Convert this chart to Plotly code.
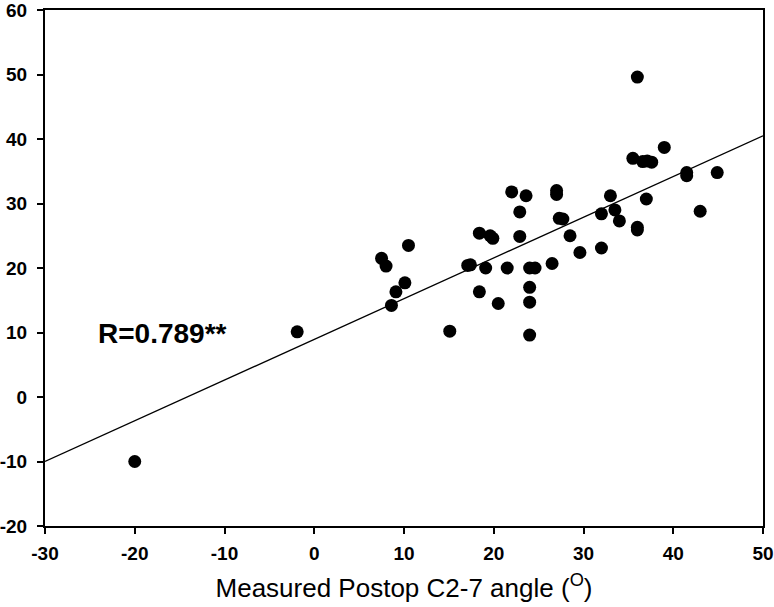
import plotly.graph_objects as go

# Measured postop C2-7 angle (x) vs predicted/other angle (y)
x_vals = [-20, -1.9, 7.5, 8.0, 10.5, 8.6, 9.1, 10.1, 15.1, 17.1,
          18.4, 18.4, 19.1, 19.6, 19.9, 20.5, 21.5, 22.0, 22.9, 22.9,
          23.6, 24.0, 24.0, 24.0, 24.0, 24.6, 26.5, 27.0, 27.0, 27.3,
          27.7, 28.5, 29.6, 32.0, 32.0, 33.0, 33.5, 34.0, 35.5, 36.0,
          36.0, 36.6, 37.1, 37.6, 37.0, 39.0, 41.5, 41.5, 43.0, 44.9,
          17.4, 36.0]
y_vals = [-10, 10.1, 21.5, 20.3, 23.5, 14.2, 16.3, 17.7, 10.2, 20.4,
          25.4, 16.3, 20.0, 25.0, 24.6, 14.5, 20.0, 31.8, 28.7, 24.9,
          31.2, 17.0, 14.7, 9.6, 20.0, 20.0, 20.7, 32.0, 31.4, 27.7,
          27.6, 25.0, 22.4, 28.4, 23.1, 31.2, 29.0, 27.3, 37.0, 49.6,
          25.9, 36.5, 36.6, 36.4, 30.7, 38.7, 34.3, 34.8, 28.8, 34.8,
          20.5, 26.3]

# Fitted regression line
fit_x = [-30, 50]
fit_y = [-10, 40.5]

x_ticks = [-30, -20, -10, 0, 10, 20, 30, 40, 50]
y_ticks = [-20, -10, 0, 10, 20, 30, 40, 50, 60]

annotation_text = "R=0.789**"
x_title = "Measured Postop C2-7 angle (<sup>O</sup>)"

fig = go.Figure()
fig.add_trace(go.Scatter(x=fit_x, y=fit_y, mode="lines",
                         line=dict(color="black", width=1.3),
                         showlegend=False, hoverinfo="skip"))
fig.add_trace(go.Scatter(x=x_vals, y=y_vals, mode="markers",
                         marker=dict(color="black", size=13, line=dict(width=0)),
                         showlegend=False))

fig.add_annotation(x=-24.3, y=9.8, xref="x", yref="y", text=f"<b>{annotation_text}</b>",
                   showarrow=False, xanchor="left", yanchor="middle",
                   font=dict(family="Liberation Sans, Arial", size=28, color="black"))

axis_common = dict(showgrid=False, zeroline=False, showline=True, linecolor="black",
                   linewidth=2, mirror=True, ticks="outside", ticklen=6, tickwidth=2,
                   tickcolor="black", automargin=False, ticklabeloverflow="allow",
                   tickfont=dict(family="Liberation Sans, Arial", size=19, color="black",
                                 weight="bold"))

fig.update_layout(
    width=774, height=607,
    margin=dict(l=45, r=11, t=10, b=81),
    paper_bgcolor="white", plot_bgcolor="white",
    xaxis=dict(range=[-30, 50], tickvals=x_ticks, ticktext=[str(v) for v in x_ticks],
               title=dict(text=x_title, standoff=16,
                          font=dict(family="Liberation Sans, Arial", size=26, color="black")),
               ticklabelstandoff=3, **axis_common),
    yaxis=dict(range=[-20, 60], tickvals=y_ticks, ticktext=[str(v) for v in y_ticks],
               ticklabelstandoff=6, **axis_common),
)

fig.write_html("out.html", config={"displayModeBar": False},
               post_script="document.body.style.margin='0';document.body.style.overflow='hidden';")
